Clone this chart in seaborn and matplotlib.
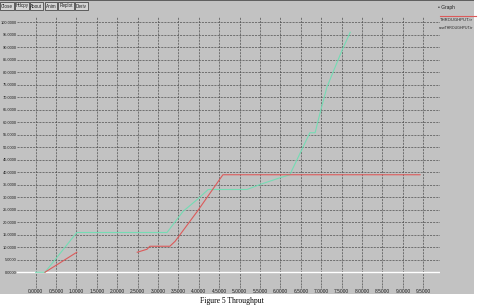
import numpy as np
import pandas as pd
import matplotlib
matplotlib.use("Agg")
import matplotlib.pyplot as plt
from matplotlib.patches import Rectangle
import seaborn as sns

# ---- data ----
green_x = [0.00, 0.23, 1.01, 3.22, 3.61, 3.96, 4.23, 5.18, 5.50, 5.99, 6.23, 6.72, 6.85, 6.97, 7.14, 7.51, 7.71]
green_y = [0.0, 0.0, 15.9, 15.9, 24.3, 29.1, 33.1, 33.1, 35.1, 37.8, 39.0, 55.8, 55.8, 63.7, 74.1, 88.8, 96.0]

red1_x = [0.23, 1.01]
red1_y = [0.0, 8.0]
red2_x = [2.49, 2.73, 2.80, 3.29, 3.42, 3.96, 4.59, 9.42]
red2_y = [8.0, 9.2, 10.4, 10.4, 12.4, 24.3, 39.0, 39.0]

x_ticks = [i * 0.5 for i in range(20)]
y_ticks = [i * 5 for i in range(21)]
buttons = ["Close", "Hdcpy", "About", "Anim", "Replot", "Deriv"]
legend_labels = ["THROUGHPUT.tr", "newTHROUGHPUT.tr"]
caption = "Figure 5 Throughput"

df = pd.concat([
    pd.DataFrame({"x": green_x, "y": green_y, "series": "new", "seg": 0}),
    pd.DataFrame({"x": red1_x, "y": red1_y, "series": "old", "seg": 1}),
    pd.DataFrame({"x": red2_x, "y": red2_y, "series": "old", "seg": 2}),
], ignore_index=True)

W, H = 478, 306
GRAY = "#c2c2c2"
TXT = "#202020"
FONT = "Liberation Sans"
fig = plt.figure(figsize=(W / 100, H / 100), dpi=100)
fig.patch.set_facecolor("white")

def fx(px):
    return px / W

def fy(py):
    return 1 - py / H

# window background
fig.patches.append(Rectangle((0, fy(294)), fx(474), 294 / H, transform=fig.transFigure,
                             facecolor=GRAY, edgecolor="none", zorder=-10))
fig.patches.append(Rectangle((0, fy(1)), fx(474), 1 / H, transform=fig.transFigure,
                             facecolor="#606060", edgecolor="none", zorder=-9))

# buttons
bx = [(0, 14), (15, 29), (30, 43), (45, 57), (58, 74), (75, 88)]
for (a, b), lab in zip(bx, buttons):
    fig.patches.append(Rectangle((fx(a), fy(10)), fx(b - a), 8 / H, transform=fig.transFigure,
                                 facecolor="#d4d4d4", edgecolor="#303030", linewidth=0.5, zorder=2))
    fig.text(fx((a + b) / 2), fy(6), lab, fontsize=3.3, ha="center", va="center", color=TXT,
             family=FONT, zorder=3)

# axes
left, right, top, bottom = 17, 440, 17, 285
ax = fig.add_axes([fx(left), fy(bottom), fx(right - left), (bottom - top) / H])
ax.set_zorder(1)
ax.set_facecolor(GRAY)
for s in ax.spines.values():
    s.set_visible(False)

ax.axhline(0, color="white", linewidth=1.0, zorder=1)

sns.lineplot(data=df, x="x", y="y", hue="series", units="seg", estimator=None, sort=False,
             palette={"new": "#74dcb4", "old": "#dc5a5a"}, linewidth=0.8, legend=False, ax=ax, zorder=3)

ax.set_xlim(-0.456, 9.91)
ax.set_ylim(-5.1, 102.1)
ax.set_xticks(x_ticks)
ax.set_xticklabels([f"{v:.4f}" for v in x_ticks], family=FONT)
ax.set_yticks(y_ticks)
ax.set_yticklabels([f"{v:.4f}" for v in y_ticks], family=FONT)
ax.grid(True, color="#505050", linestyle=(0, (3, 1.5)), linewidth=0.5, zorder=0)
ax.set_axisbelow(True)
ax.tick_params(axis="y", length=0, pad=0.2, labelsize=2.9, colors=TXT)
ax.tick_params(axis="x", length=2, width=0.4, pad=1, labelsize=3.5, colors=TXT, color="#505050")
ax.set_xlabel("")
ax.set_ylabel("")

# legend-like texts (xgraph style)
fig.text(fx(438), fy(7), "\u2022 Graph", fontsize=3.5, ha="left", va="center", color=TXT, family=FONT)
fig.add_artist(plt.Line2D([fx(440), fx(476)], [fy(16), fy(16)], color="#dc5a5a", linewidth=0.8,
                          transform=fig.transFigure))
fig.text(fx(440), fy(20), legend_labels[0], fontsize=3.0, ha="left", va="center", color=TXT, family=FONT)
fig.text(fx(439), fy(28), legend_labels[1], fontsize=2.6, ha="left", va="center", color=TXT, family=FONT)

fig.text(fx(232), fy(301), caption, fontsize=5.5, ha="center", va="center",
         family="Liberation Serif", color="black")

fig.savefig("out.png", dpi=100, facecolor="white")
